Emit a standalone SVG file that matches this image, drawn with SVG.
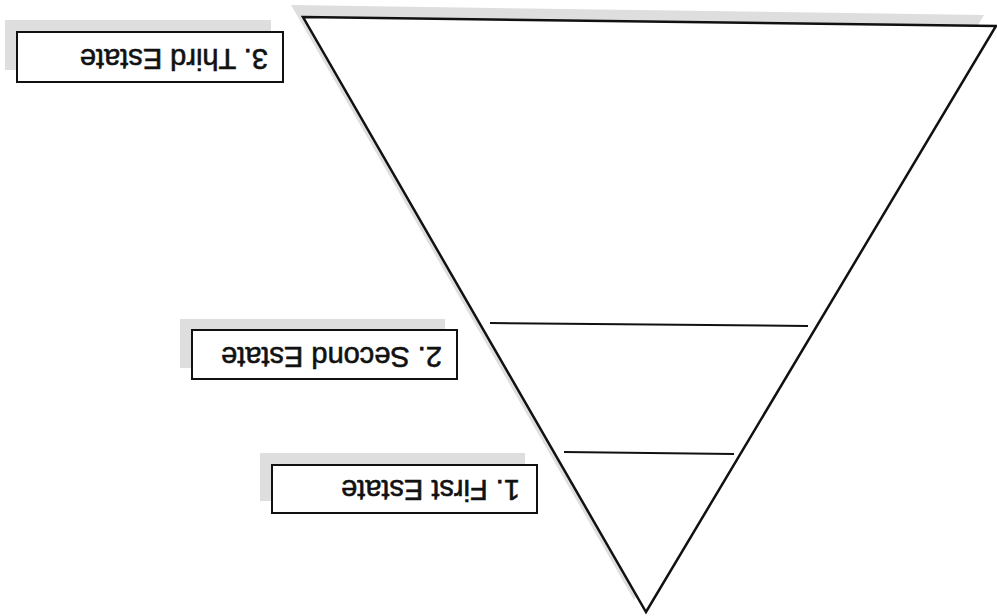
<svg xmlns="http://www.w3.org/2000/svg" width="997" height="616" viewBox="0 0 997 616">
<style>
.shadow{fill:#dedede;stroke:none}
.box{fill:#fff;stroke:#111;stroke-width:2}
.tri{fill:#fff;stroke:#111;stroke-width:2.5;stroke-linejoin:miter}
.div{stroke:#111;stroke-width:2;fill:none}
.lbl{font-family:"Liberation Sans",Arial,sans-serif;font-size:29px;fill:#111;stroke:#111;stroke-width:0.6}
</style>
<rect width="997" height="616" fill="#fff"/>
<g id="pyramid">
<polygon class="shadow" points="291,5 984,15 634,600"/>
<polygon class="tri" points="303,17 996,26 646,612"/>
</g>
<g id="connectors">
<line class="div" x1="490" y1="323" x2="808" y2="326"/>
<line class="div" x1="564" y1="452" x2="734" y2="454"/>
</g>
<g id="third-estate">
<rect class="shadow" x="5" y="20" width="266" height="50"/>
<g transform="rotate(180 150 57)">
<rect class="box" x="17" y="32" width="266" height="50"/>
<text class="lbl" x="32" y="65">3. Third Estate</text>
</g>
</g>
<g id="second-estate">
<rect class="shadow" x="180" y="319" width="265" height="49"/>
<g transform="rotate(180 324.5 354.5)">
<rect class="box" x="192" y="330" width="265" height="49"/>
<text class="lbl" x="207" y="362">2. Second Estate</text>
</g>
</g>
<g id="first-estate">
<rect class="shadow" x="260" y="453" width="265" height="48"/>
<g transform="rotate(180 404.5 489)">
<rect class="box" x="272" y="465" width="265" height="48"/>
<text class="lbl" x="289" y="498">1. First Estate</text>
</g>
</g>
</svg>
